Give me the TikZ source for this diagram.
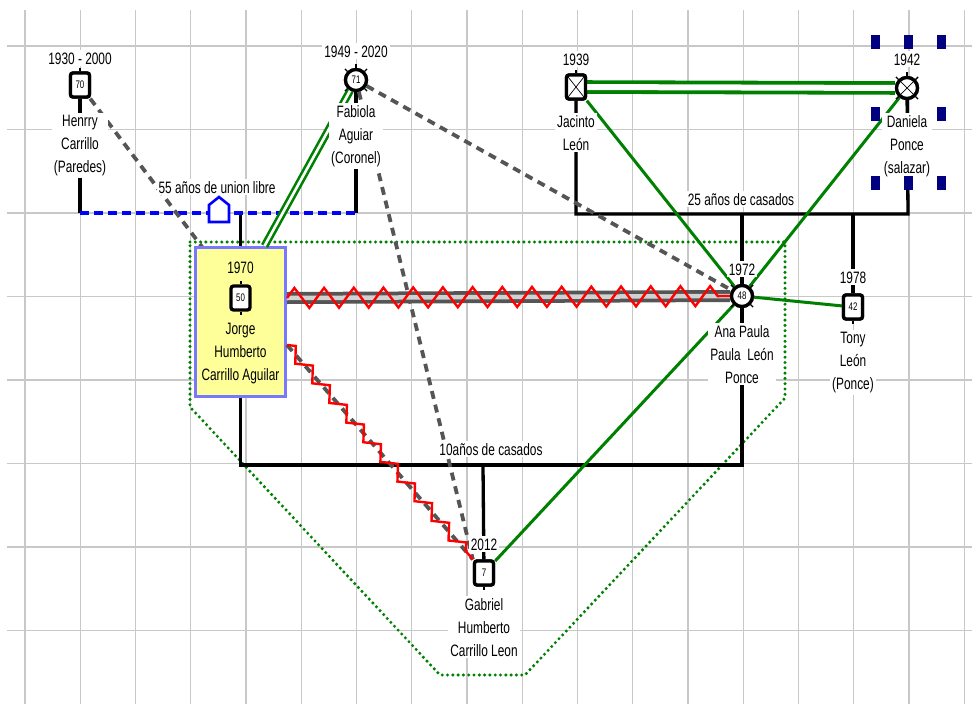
\documentclass[tikz,border=0pt]{standalone}
\usepackage{fontspec}
\setmainfont{Liberation Sans}[FakeStretch=0.72]
\usetikzlibrary{decorations.pathmorphing}
\definecolor{gridgray}{RGB}{200,200,200}
\definecolor{kin}{RGB}{0,128,0}
\definecolor{navysel}{RGB}{0,0,128}
\definecolor{bondgray}{RGB}{85,85,85}
\definecolor{bondlight}{RGB}{210,210,210}
\definecolor{hiyellow}{RGB}{255,255,153}
\definecolor{hiblue}{RGB}{120,120,255}
\definecolor{uniblue}{RGB}{0,0,255}

\begin{document}
\begin{tikzpicture}[x=1pt,y=-1pt,
  gridline/.style={gridgray, line width=1.3pt},
  txt/.style={font=\fontsize{16.5}{23}\selectfont, align=center, inner xsep=2pt, inner ysep=2pt},
  lbl/.style={txt, fill=white},
  age/.style={font=\fontsize{11}{11}\selectfont},
  male/.style={draw, line width=3.3pt, rounded corners=2.5pt, minimum width=19pt,
    minimum height=24pt, inner sep=0pt, fill=white, age},
  female/.style={draw, circle, line width=3.3pt, minimum size=21pt, inner sep=0pt,
    fill=white, age},
  crossed/.style={path picture={\draw[line width=0.7pt]
    (path picture bounding box.north west) -- (path picture bounding box.south east)
    (path picture bounding box.north east) -- (path picture bounding box.south west);}},
  family/.style={black, line width=3.3pt},
  union/.style={uniblue, line width=3.5pt, dash pattern=on 9pt off 5pt},
  hostile/.style={bondgray, line width=3.8pt, dash pattern=on 8pt off 6pt},
  close/.style={kin, line width=3pt},
  closepair/.style={kin, line width=2.6pt, double=white, double distance=2.6pt},
  household/.style={kin, line width=3.4pt, dash pattern=on 0pt off 5.3pt, line cap=round},
  conflict/.style={red, line width=2.4pt, decorate},
  handle/.style={fill=navysel},
]
\useasboundingbox (0,0) rectangle (972,704);

% background grid
\foreach \i in {0,...,17}
  \draw[gridline] ({25+55.25*\i},10) -- ({25+55.25*\i},704);
\foreach \j in {0,...,7}
  \draw[gridline] (7,{46+83.5*\j}) -- (972,{46+83.5*\j});

% household boundary
\draw[household] (190,242) -- (785,242) -- (785,398) -- (525,675)
  -- (440,675) -- (190,407) -- cycle;

% person symbols (placed first so lines can refer to them)
\node[male]            (henrry)  at (80,85)   {70};
\node[female]          (fabiola) at (356,80)  {71};
\node[male, crossed]   (jacinto) at (576,87)  {};
\node[female, crossed] (daniela) at (907,88)  {};
\node[female]          (ana)     at (742,296) {48};
\node[male]            (tony)    at (853,307) {42};
\node[male]            (gabriel) at (484,573) {7};
\node[male]            (jorge)   at (240.5,298) {50};

% junction points of the family lines
\coordinate (hc) at (80,213);
\coordinate (fc) at (356,213);
\coordinate (jtop) at (240.5,213);
\coordinate (jc) at (576,214);
\coordinate (dc) at (908,214);
\coordinate (ac) at (742,214);
\coordinate (tc) at (853,214);
\coordinate (jgc) at (240.5,465);
\coordinate (agc) at (742,465);
\coordinate (gc) at (483,465);

% parents and children
\draw[family] (henrry) -- (hc);
\draw[family] (fabiola) -- (fc);
\draw[family] (jorge) -- (jtop);
\draw[family] (jacinto) -- (jc) -- (dc) -- (daniela);
\draw[family] (ac) -- (ana);
\draw[family] (tc) -- (tony);
\draw[family] (jorge) -- (jgc) -- (agc) -- (ana);
\draw[family] (gc) -- (gabriel);
\draw[union] (hc) -- (fc);

% emotional relations
\draw[hostile] (henrry) -- (jorge);
\draw[hostile] (fabiola) -- (ana);
\draw[hostile] (fabiola) -- (gabriel.north west);

\draw[close] (jacinto) -- (ana);
\draw[close] (daniela) -- (ana);
\draw[close] (ana) -- (gabriel);
\draw[close] (ana) -- (tony);
\draw[kin, line width=3.8pt, double=white, double distance=6pt] (jacinto) -- (daniela);

% highlighted person
\node[draw=hiblue, fill=hiyellow, line width=3pt, minimum width=90pt,
  minimum height=149pt] (jbox) at (240.5,322) {};
\node[male] (jorge2) at (jorge) {50};
\draw[closepair] (fabiola) -- ([xshift=24pt]jbox.north);

% Jorge -- Ana Paula: conflictive bond
\draw[bondgray, line width=12pt] (jbox.east |- jorge) -- (ana.west);
\draw[bondlight, line width=4.5pt] (jbox.east |- jorge) -- (ana.west);
\draw[conflict, decoration={zigzag, segment length=29.7pt, amplitude=10pt}]
  (jbox.east |- jorge) -- (ana.west);

% Jorge -- Gabriel
\draw[hostile] ([yshift=-23pt]jbox.east) -- (gabriel.north west);
\draw[conflict, decoration={zigzag, segment length=26pt, amplitude=6pt}]
  ([yshift=-23pt]jbox.east) -- (gabriel.north west);

% house mark on the union line
\draw[uniblue, line width=2.6pt, fill=white, line join=miter]
  (209,222) -- (229,222) -- (229,205) -- (219,197) -- (209,205) -- cycle;

% symbol redraws on top of the lines
\foreach \p in {henrry, jacinto, tony, gabriel}{
  \draw[line width=2pt] (\p.north) -- ++(0,-3);
  \draw[line width=2pt] (\p.south) -- ++(0,3);
}
\node[male] at (henrry) {70};
\node[male, crossed] at (jacinto) {};
\node[male] at (tony) {42};
\node[male] at (gabriel) {7};
\draw[line width=2pt] (jorge2.north) -- ++(0,-3);
\draw[line width=2pt] (jorge2.south) -- ++(0,3);
\foreach \p in {fabiola, daniela, ana}
  \foreach \a in {45,90,135,225,270,315}
    \draw[line width=1.4pt] (\p.\a) -- ++(\a:3.5pt);
\node[female] at (fabiola) {71};
\node[female, crossed] at (daniela) {};
\node[female] at (ana) {48};

% years
\node[lbl, anchor=base] (y1) at (80,64)    {1930 - 2000};
\node[lbl, anchor=base] (y2) at (356,57)   {1949 - 2020};
\node[lbl, anchor=base] (y3) at (576,65)   {1939};
\node[lbl, anchor=base] (y4) at (907,65)   {1942};
\node[txt, anchor=base] (y5) at (240.5,273) {1970};
\node[lbl, anchor=base] (y6) at (742,275)  {1972};
\node[lbl, anchor=base] (y7) at (853,283)  {1978};
\node[lbl, anchor=base] (y8) at (484,550)  {2012};

% names
\node[lbl, anchor=north] (n1) at (80,113)   {Henrry\\Carrillo\\(Paredes)};
\node[lbl, anchor=north] (n2) at (356,103)  {Fabiola\\Aguiar\\(Coronel)};
\node[lbl, anchor=north] (n3) at (576,113)  {Jacinto\\León};
\node[lbl, anchor=north] (n4) at (907,113)  {Daniela\\Ponce\\(salazar)};
\node[txt, anchor=north] (n5) at (240.5,321) {Jorge\\Humberto\\Carrillo Aguilar};
\node[lbl, anchor=north] (n6) at (742,323)  {Ana Paula\\Paula~~León\\Ponce};
\node[lbl, anchor=north] (n7) at (853,330)  {Tony\\León\\(Ponce)};
\node[lbl, anchor=north] (n8) at (484,596)  {Gabriel\\Humberto\\Carrillo Leon};

% relation captions
\node[lbl, anchor=base] (r1) at (217,193) {55 años de union libre};
\node[lbl, anchor=base] (r2) at (741,205) {25 años de casados};
\node[lbl, anchor=base] (r3) at (491,455) {10años de casados};

% selection handles
\foreach \hx/\hy in {875/42, 908/42, 941/42, 875/114, 941/114, 875/183, 908/183, 941/183}
  \fill[handle] ({\hx-4.5},{\hy-7}) rectangle ({\hx+4.5},{\hy+7});
\end{tikzpicture}
\end{document}
